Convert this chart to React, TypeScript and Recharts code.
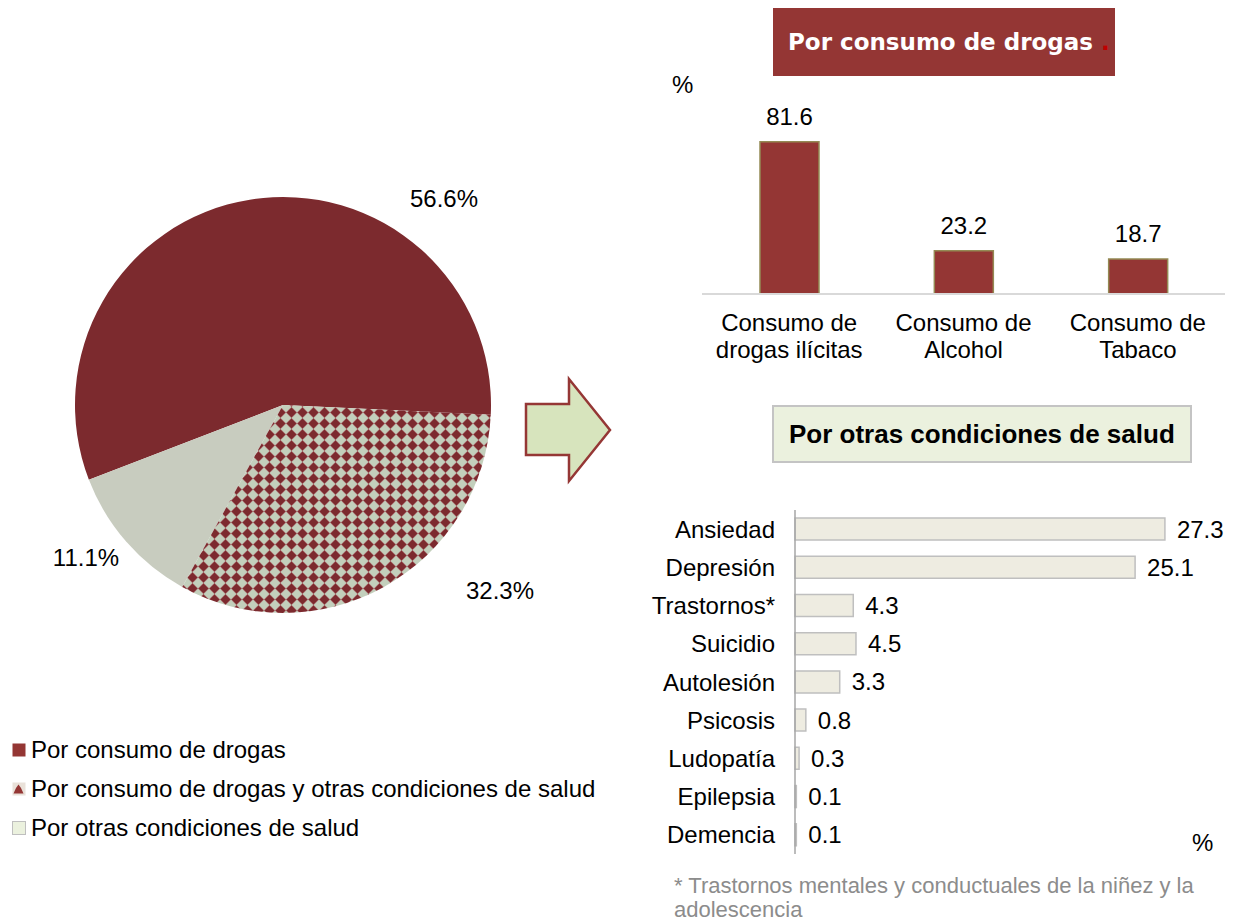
import React from "react"
import { PieChart, Pie, Cell, BarChart, Bar, XAxis, YAxis, LabelList } from "recharts"

// pie: order follows the drawing direction of the slices
const pieNames = [
  "Por consumo de drogas",
  "Por otras condiciones de salud",
  "Por consumo de drogas y otras condiciones de salud",
]
const pieValues = [56.6, 11.1, 32.3]
const legendOrder = [0, 2, 1]

const drugCategories = ["Consumo de\ndrogas ilícitas", "Consumo de\nAlcohol", "Consumo de\nTabaco"]
const drugValues = [81.6, 23.2, 18.7]

const healthCategories = [
  "Ansiedad",
  "Depresión",
  "Trastornos*",
  "Suicidio",
  "Autolesión",
  "Psicosis",
  "Ludopatía",
  "Epilepsia",
  "Demencia",
]
const healthValues = [27.3, 25.1, 4.3, 4.5, 3.3, 0.8, 0.3, 0.1, 0.1]

const FONT = "'Liberation Sans', Arial, sans-serif"
const FS = 24

const pieFills = ["#7C2A2E", "#C8CCBF", "url(#diamonds)"]
const legendFills = ["#943634", "#EBF1DE", "url(#diamondsSmall)"]
const pieLabelOffsets = [
  [161, -207],
  [-197, 152],
  [217, 185],
]

const pieData = pieNames.map((name, i) => ({ name, value: pieValues[i] }))
const drugData = drugCategories.map((name, i) => ({ name, value: drugValues[i] }))
const healthData = healthCategories.map((name, i) => ({ name, value: healthValues[i] }))

const renderPieLabel = (p: any) => {
  const [dx, dy] = pieLabelOffsets[p.index]
  return (
    <text
      x={p.cx + dx}
      y={p.cy + dy}
      textAnchor="middle"
      dominantBaseline="central"
      fontSize={FS}
      fontFamily={FONT}
      fill="#000"
    >
      {pieValues[p.index].toFixed(1)}%
    </text>
  )
}

const TwoLineTick = (props: any) => {
  const { x, y, payload } = props
  const lines = String(payload.value).split("\n")
  return (
    <text x={x} y={y} textAnchor="middle" fontSize={FS} fontFamily={FONT} fill="#000">
      {lines.map((l, i) => (
        <tspan key={i} x={x} dy={i === 0 ? 37 : 27}>
          {l}
        </tspan>
      ))}
    </text>
  )
}

const abs = (left: number, top: number, extra: React.CSSProperties = {}): React.CSSProperties => ({
  position: "absolute",
  left,
  top,
  ...extra,
})

export default function App() {
  return (
    <div
      style={{
        position: "fixed",
        left: 0,
        top: 0,
        width: 1239,
        height: 923,
        background: "#fff",
        fontFamily: FONT,
        overflow: "hidden",
      }}
    >
      <svg width={0} height={0} style={{ position: "absolute" }}>
        <defs>
          <pattern id="diamonds" patternUnits="userSpaceOnUse" width={11} height={11}>
            <rect width={11} height={11} fill="#C3CFBC" />
            <polygon
              points="5.5,0.3 10.7,5.5 5.5,10.7 0.3,5.5"
              fill="#7C2A2E"
              stroke="#A0555A"
              strokeWidth={0.8}
            />
          </pattern>
          <pattern id="diamondsSmall" patternUnits="userSpaceOnUse" width={13} height={13}>
            <rect width={13} height={13} fill="#E9E1D9" />
            <polygon points="6.5,2.5 9,6 11.5,11.5 1.5,11.5 4,6" fill="#943634" />
          </pattern>
        </defs>
      </svg>

      {/* pie */}
      <div style={abs(0, 0)}>
        <PieChart width={600} height={640} margin={{ top: 0, right: 0, bottom: 0, left: 0 }}>
          <Pie
            data={pieData}
            dataKey="value"
            nameKey="name"
            cx={283}
            cy={405}
            outerRadius={208}
            startAngle={-2.7}
            endAngle={357.3}
            labelLine={false}
            label={renderPieLabel}
            stroke="none"
            isAnimationActive={false}
          >
            {pieData.map((d, i) => (
              <Cell key={d.name} fill={pieFills[i]} stroke="none" />
            ))}
          </Pie>
        </PieChart>
      </div>

      {/* legend */}
      {legendOrder.map((idx, row) => (
        <div key={idx} style={abs(12, 750 + row * 39 - 12, { height: 24, display: "flex", alignItems: "center" })}>
          <svg width={14} height={14} style={{ marginRight: 5 }}>
            <rect
              x={0.5}
              y={0.5}
              width={13}
              height={13}
              fill={legendFills[idx]}
              stroke={idx === 1 ? "#BFBFBF" : "none"}
            />
          </svg>
          <span style={{ fontSize: FS, lineHeight: "24px", color: "#000" }}>{pieNames[idx]}</span>
        </div>
      ))}

      {/* arrow */}
      <svg width={1239} height={923} style={{ position: "absolute", left: 0, top: 0, pointerEvents: "none" }}>
        <polygon
          points="526,404 569,404 569,379 610,430 569,481 569,455 526,455"
          fill="#D7E4BD"
          stroke="#953735"
          strokeWidth={2.5}
        />
      </svg>

      {/* title boxes */}
      <div
        style={abs(773, 8, {
          width: 342,
          height: 68,
          background: "#943634",
          display: "flex",
          alignItems: "center",
          paddingLeft: 15,
          boxSizing: "border-box",
          fontFamily: "'DejaVu Sans', sans-serif",
          fontWeight: "bold",
          fontSize: 23,
          color: "#fff",
        })}
      >
        Por consumo de drogas&nbsp;<span style={{ color: "#C00000" }}>.</span>
      </div>
      <div
        style={abs(772, 405, {
          width: 420,
          height: 58,
          background: "#EBF1DE",
          border: "2px solid #C4C4C4",
          display: "flex",
          alignItems: "center",
          paddingLeft: 15,
          boxSizing: "border-box",
          fontWeight: "bold",
          fontSize: 26,
          color: "#000",
        })}
      >
        Por otras condiciones de salud
      </div>

      <div style={abs(672, 85 - FS / 2, { fontSize: FS, lineHeight: 1 })}>%</div>
      <div style={abs(1192, 843 - FS / 2, { fontSize: FS, lineHeight: 1 })}>%</div>

      {/* drug consumption bars */}
      <div style={abs(680, 100)}>
        <BarChart width={560} height={280} data={drugData} margin={{ top: 26, right: 15, left: 22, bottom: 0 }}>
          <XAxis
            dataKey="name"
            height={86}
            axisLine={{ stroke: "#D9D9D9", strokeWidth: 2 }}
            tickLine={false}
            tickSize={0}
            tickMargin={0}
            interval={0}
            tick={<TwoLineTick />}
          />
          <YAxis hide domain={[0, 90]} />
          <Bar dataKey="value" fill="#943634" stroke="#948A54" strokeWidth={1.5} barSize={59} isAnimationActive={false}>
            <LabelList dataKey="value" position="top" offset={17} fontSize={FS} fontFamily={FONT} fill="#000" />
          </Bar>
        </BarChart>
      </div>

      {/* other health conditions bars */}
      <div style={abs(640, 490)}>
        <BarChart
          width={600}
          height={380}
          data={healthData}
          layout="vertical"
          margin={{ top: 20, right: 38.5, left: 0, bottom: 16 }}
        >
          <XAxis type="number" hide domain={[0, 30]} />
          <YAxis
            type="category"
            dataKey="name"
            width={155}
            axisLine={{ stroke: "#A6A6A6", strokeWidth: 1.5 }}
            tickLine={false}
            tickSize={0}
            tickMargin={20}
            interval={0}
            tick={{ fontSize: FS, fill: "#000", fontFamily: FONT }}
          />
          <Bar dataKey="value" fill="#EEECE1" stroke="#BFBFBF" strokeWidth={1.5} barSize={22} isAnimationActive={false}>
            <LabelList dataKey="value" position="right" offset={12} fontSize={FS} fontFamily={FONT} fill="#000" />
          </Bar>
        </BarChart>
      </div>

      {/* footnote */}
      <div style={abs(674, 874, { fontSize: 22, lineHeight: "24px", color: "#8C8C8C", width: 560 })}>
        * Trastornos mentales y conductuales de la niñez y la
        <br />
        adolescencia
      </div>
    </div>
  )
}
